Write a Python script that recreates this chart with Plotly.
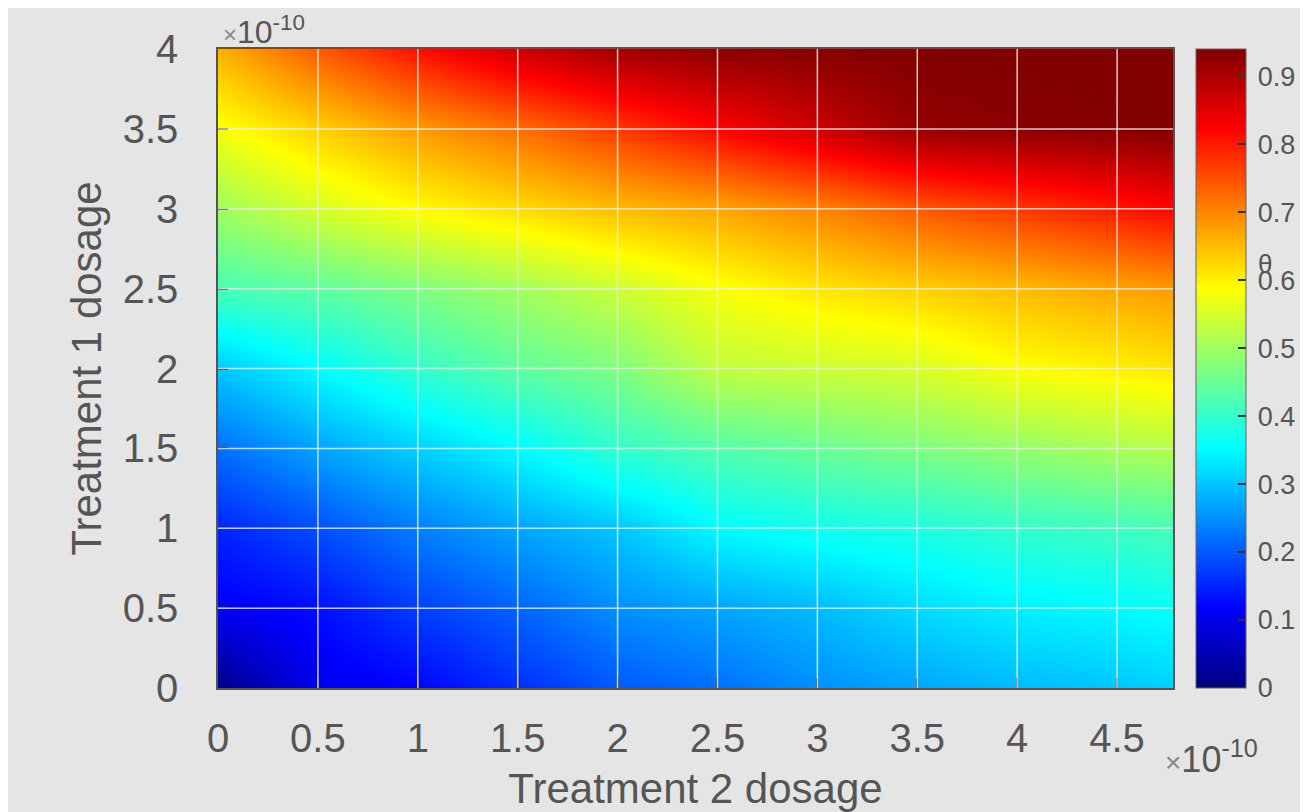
import plotly.graph_objects as go

# Dosages in units of 1e-10
treatment2 = [0, 0.5, 1.0, 1.5, 2.0, 2.5, 3.0, 3.5, 4.0, 4.5, 4.78]   # x
treatment1 = [0, 0.5, 1.0, 1.5, 2.0, 2.5, 3.0, 3.5, 4.0]               # y

# response values (rows follow treatment1, columns treatment2)
resp_y0 = [0.01, 0.10, 0.12, 0.16, 0.20, 0.22, 0.25, 0.27, 0.29, 0.30, 0.31]
resp_y05 = [0.11, 0.13, 0.175, 0.21, 0.25, 0.27, 0.29, 0.32, 0.34, 0.35, 0.36]
resp_y1 = [0.15, 0.19, 0.235, 0.27, 0.30, 0.35, 0.37, 0.38, 0.40, 0.41, 0.42]
resp_y15 = [0.22, 0.27, 0.31, 0.35, 0.40, 0.43, 0.45, 0.47, 0.49, 0.51, 0.52]
resp_y2 = [0.30, 0.35, 0.40, 0.44, 0.47, 0.53, 0.54, 0.55, 0.585, 0.60, 0.61]
resp_y25 = [0.42, 0.44, 0.47, 0.50, 0.54, 0.58, 0.61, 0.63, 0.65, 0.67, 0.68]
resp_y3 = [0.50, 0.55, 0.59, 0.62, 0.65, 0.67, 0.70, 0.74, 0.77, 0.80, 0.82]
resp_y35 = [0.58, 0.63, 0.68, 0.72, 0.77, 0.82, 0.87, 0.92, 0.93, 0.935, 0.94]
resp_y4 = [0.66, 0.74, 0.81, 0.87, 0.91, 0.93, 0.935, 0.94, 0.94, 0.94, 0.94]
response = [resp_y0, resp_y05, resp_y1, resp_y15, resp_y2, resp_y25, resp_y3, resp_y35, resp_y4]

xticks = [0, 0.5, 1, 1.5, 2, 2.5, 3, 3.5, 4, 4.5]
yticks = [0, 0.5, 1, 1.5, 2, 2.5, 3, 3.5, 4]
cbar_ticks = [0, 0.1, 0.2, 0.3, 0.4, 0.5, 0.6, 0.7, 0.8, 0.9]

jet = [
    [0.0, "rgb(0,0,128)"],
    [0.125, "rgb(0,0,255)"],
    [0.375, "rgb(0,255,255)"],
    [0.625, "rgb(255,255,0)"],
    [0.875, "rgb(255,0,0)"],
    [1.0, "rgb(128,0,0)"],
]

FONT = "Liberation Sans, Arial, sans-serif"
GRAY = "#555555"

fig = go.Figure()
fig.add_trace(go.Heatmap(
    x=treatment2, y=treatment1, z=response,
    zsmooth="best", colorscale=jet, zmin=0, zmax=0.94,
    colorbar=dict(
        x=1.024, xanchor="left", y=0.5, yanchor="middle",
        len=1.0, lenmode="fraction", thickness=50, thicknessmode="pixels",
        xpad=0, ypad=0, outlinewidth=1, outlinecolor="#666",
        tickvals=cbar_ticks,
        ticktext=["\u2009" + (str(t) if t else "0") for t in cbar_ticks],
        ticks="inside", ticklen=8, tickcolor="#333", tickwidth=1.5,
        tickfont=dict(family=FONT, size=27, color=GRAY),
    ),
    hoverinfo="skip",
))

# grid lines drawn above the image
shapes = []
for xv in xticks[1:]:
    shapes.append(dict(type="line", xref="x", yref="paper", x0=xv, x1=xv, y0=0, y1=1,
                       line=dict(color="rgba(235,235,235,0.85)", width=1.5), layer="above"))
for yv in yticks[1:-1]:
    shapes.append(dict(type="line", xref="paper", yref="y", x0=0, x1=1, y0=yv, y1=yv,
                       line=dict(color="rgba(235,235,235,0.85)", width=1.5), layer="above"))

fig.update_layout(
    width=1300, height=804,
    margin=dict(l=210, r=135, t=41, b=124, autoexpand=False),
    paper_bgcolor="#e5e5e5", plot_bgcolor="#e5e5e5",
    font=dict(family=FONT, color=GRAY),
    shapes=shapes,
    xaxis=dict(
        range=[0, 4.78], tickvals=xticks, ticks="inside", ticklen=10, tickwidth=2,
        tickcolor="#333", showgrid=False, zeroline=False, showline=True, mirror=True,
        linecolor="#555", linewidth=1.5, layer="above traces",
        tickfont=dict(family=FONT, size=40, color=GRAY), ticklabelstandoff=14,
        title=dict(text="Treatment 2 dosage", font=dict(family=FONT, size=42, color=GRAY), standoff=20),
    ),
    yaxis=dict(
        range=[0, 4], tickvals=yticks, ticks="inside", ticklen=10, tickwidth=2,
        tickcolor="#333", showgrid=False, zeroline=False, showline=True, mirror=True,
        linecolor="#555", linewidth=1.5, layer="above traces",
        tickfont=dict(family=FONT, size=40, color=GRAY), ticklabelstandoff=30,
        title=dict(text="Treatment 1 dosage", font=dict(family=FONT, size=42, color=GRAY), standoff=8),
    ),
    annotations=[
        dict(text="<span style='font-size:24px;color:#888'>×</span>10<sup>-10</sup>",
             xref="paper", yref="paper", x=0.003, y=1.03, xanchor="left", yanchor="middle",
             showarrow=False, font=dict(family=FONT, size=32, color=GRAY)),
        dict(text="<span style='font-size:28px;color:#888'>×</span>10<sup>-10</sup>",
             xref="paper", yref="paper", x=0.99, y=-0.108, xanchor="left", yanchor="middle",
             showarrow=False, font=dict(family=FONT, size=36, color=GRAY)),
        dict(text="θ", xref="paper", yref="paper", x=(1265 - 218) / 955, y=(688 - 264) / 639,
             xanchor="center", yanchor="middle", showarrow=False,
             font=dict(family=FONT, size=26, color=GRAY)),
    ],
)

fig.write_html("out.html")
